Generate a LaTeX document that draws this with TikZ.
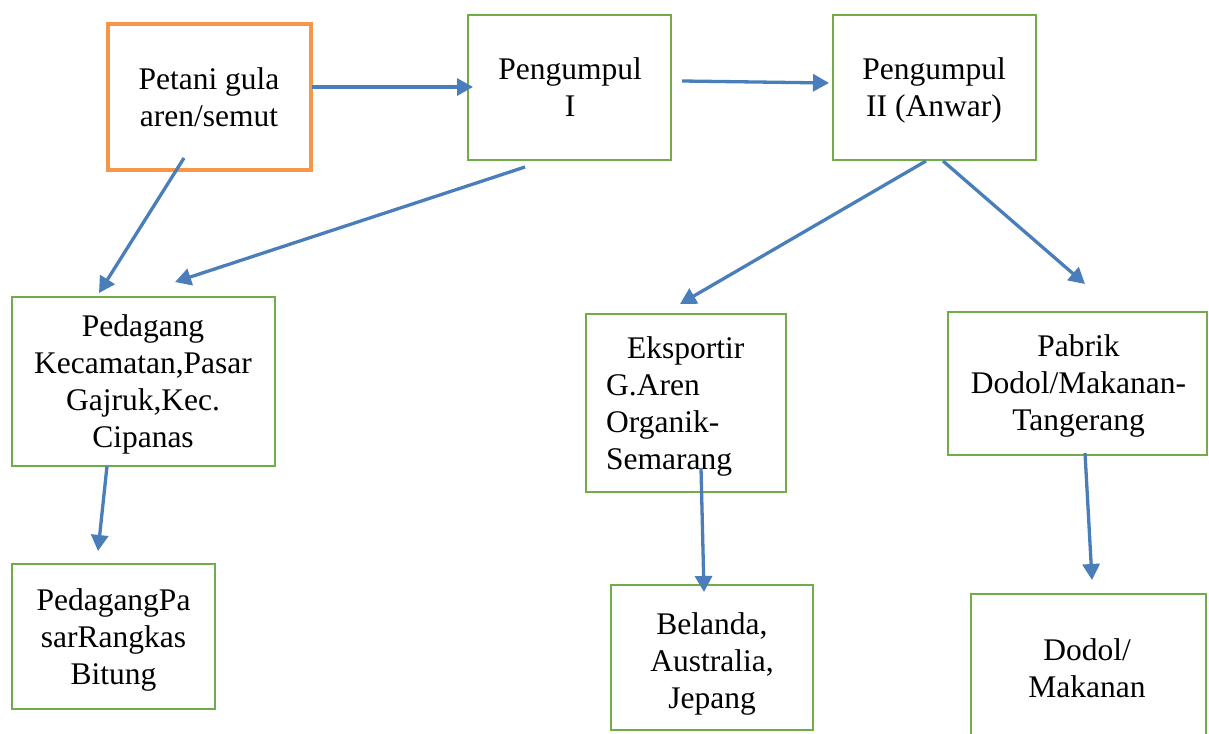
\documentclass[tikz,border=0pt]{standalone}
\usepackage{fontspec}
\setmainfont{Liberation Serif}
\usetikzlibrary{arrows.meta}
\definecolor{borange}{HTML}{F79646}
\definecolor{bgreen}{HTML}{70AD47}
\definecolor{ablue}{HTML}{4A7EBB}
\begin{document}
\begin{tikzpicture}[x=1pt,y=-1pt,
  box/.style={draw=bgreen,line width=2.6pt,inner sep=0pt,outer sep=0pt},
  obox/.style={draw=borange,line width=4.6pt,inner sep=0pt,outer sep=0pt},
  lbl/.style={font=\fontsize{31.5}{37}\selectfont,align=center,inner sep=0pt},
  arr/.style={draw=ablue,line width=3.3pt,-{Triangle[length=16pt,width=17pt]}}]
\useasboundingbox (0,0) rectangle (1209,733);
\clip (0,0) rectangle (1209,733);
\fill[white] (0,0) rectangle (1209,733);
% boxes
\node[obox,minimum width=203pt,minimum height=146pt] (pet) at (209.5,97) {};
\node[box,minimum width=203pt,minimum height=145pt] (pg1) at (569.5,87.5) {};
\node[box,minimum width=203pt,minimum height=145pt] (pg2) at (934.5,87.5) {};
\node[box,minimum width=263pt,minimum height=169pt] (pkc) at (143.5,381.5) {};
\node[box,minimum width=203pt,minimum height=145pt] (prb) at (113.5,636.5) {};
\node[box,minimum width=200pt,minimum height=178pt] (eks) at (686,403) {};
\node[box,minimum width=202pt,minimum height=145pt] (bel) at (712,657.5) {};
\node[box,minimum width=259pt,minimum height=143pt] (pab) at (1077.5,383.5) {};
\node[box,minimum width=235pt,minimum height=145pt] (dod) at (1088.5,666.5) {};
% texts
\node[lbl] (tpet) at (209,100.6) {\strut Petani gula\\\strut aren/semut};
\node[lbl] (tpg1) at (570,91.1) {\strut Pengumpul\\\strut I};
\node[lbl] (tpg2) at (934,91.1) {\strut Pengumpul\\\strut II (Anwar)};
\node[lbl] (tpkc) at (143,384.6) {\strut Pedagang\\\strut Kecamatan,Pasar\\\strut Gajruk,Kec.\\\strut Cipanas};
\node[lbl] (tprb) at (113.5,640.1) {\strut PedagangPa\\\strut sarRangkas\\\strut Bitung};
\node[lbl,align=left,anchor=west] (teks) at (606,406.1) {\strut\hspace*{21pt}Eksportir\\\strut G.Aren\\\strut Organik-\\\strut Semarang};
\node[lbl] (tbel) at (712,664) {\strut Belanda,\\\strut Australia,\\\strut Jepang};
\node[lbl] (tpab) at (1078.5,386.1) {\strut Pabrik\\\strut Dodol/Makanan-\\\strut Tangerang};
\node[lbl] (tdod) at (1087,671.1) {\strut Dodol/\\\strut Makanan};
% connector end points
\coordinate (a1s) at (312,87);   \coordinate (a1e) at (473,87);
\coordinate (a2s) at (682,81);   \coordinate (a2e) at (829,83);
\coordinate (a3s) at (184,158);  \coordinate (a3e) at (99,293);
\coordinate (a4s) at (525,167);  \coordinate (a4e) at (175,282);
\coordinate (a5s) at (926,161);  \coordinate (a5e) at (680,304);
\coordinate (a6s) at (943,161);  \coordinate (a6e) at (1085,284);
\coordinate (a7s) at (107,466);  \coordinate (a7e) at (98,551);
\coordinate (a8s) at (701,468);  \coordinate (a8e) at (704,592);
\coordinate (a9s) at (1085,453); \coordinate (a9e) at (1092,580);
\draw[arr] (a1s) -- (a1e);
\draw[arr] (a2s) -- (a2e);
\draw[arr] (a3s) -- (a3e);
\draw[arr] (a4s) -- (a4e);
\draw[arr] (a5s) -- (a5e);
\draw[arr] (a6s) -- (a6e);
\draw[arr] (a7s) -- (a7e);
\draw[arr] (a8s) -- (a8e);
\draw[arr] (a9s) -- (a9e);
\end{tikzpicture}
\end{document}
